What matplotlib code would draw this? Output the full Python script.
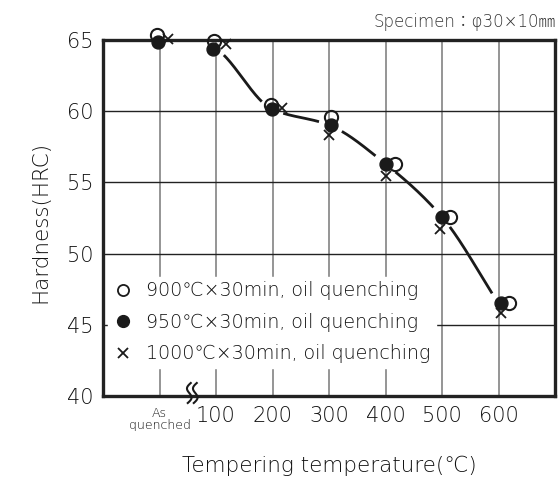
import numpy as np
import matplotlib
matplotlib.use('Agg')
import matplotlib.pyplot as plt
from matplotlib.lines import Line2D
from matplotlib.transforms import ScaledTranslation, IdentityTransform

plt.rcParams['font.family'] = ['DejaVu Sans', 'Noto Sans CJK JP']
plt.rcParams['font.weight'] = 200

# ---------------- data ----------------
categories = ['As\nquenched', '100', '200', '300', '400', '500', '600']
hrc_900 = [65.35, 64.95, 60.43, 59.57, 56.3, 52.55, 46.5]
hrc_950 = [64.88, 64.4, 60.13, 59.03, 56.3, 52.57, 46.5]
hrc_1000 = [65.1, 64.7, 60.25, 58.33, 55.45, 51.7, 45.8]
y_ticks = [40, 45, 50, 55, 60, 65]
legend_labels = ['900℃×30min, oil quenching',
                 '950℃×30min, oil quenching',
                 '1000℃×30min, oil quenching']
note = 'Specimen：φ30×10㎜'
x_label = 'Tempering temperature(℃)'
y_label = 'Hardness(HRC)'

# ---------------- style ----------------
TXT = '#111111'
DARK = '#1a1a1a'
dx_900 = [-3, -2, -2, 2, 9, 8, 10]     # small horizontal shifts (px) to avoid overlap
dx_950 = [-2, -3, -1, 2, 0, 0, 2]
dx_1000 = [8, 10, 9, 0, 0, -2, 2]

DPI = 100
fig = plt.figure(figsize=(5.6, 4.8), dpi=DPI)
ax = fig.add_axes([103 / 560, 1 - 396 / 480, 452 / 560, 356 / 480])
ax.set_xlim(-1, 7)
ax.set_ylim(40, 65)

pos = np.arange(len(categories))

# grid
for p in pos:
    ax.axvline(p, color='#8c8c8c', lw=1.3, zorder=1)
for yv in y_ticks[1:-1]:
    ax.axhline(yv, color='#222222', lw=1.0, zorder=1)

for s in ax.spines.values():
    s.set_linewidth(2.4)
    s.set_color('#222222')

ax.set_yticks(y_ticks)
ax.set_yticklabels([str(v) for v in y_ticks], fontsize=15, color=TXT)
ax.set_xticks(pos[1:])
ax.set_xticklabels(categories[1:], fontsize=15, color=TXT)
ax.tick_params(length=0, pad=7)
ax.text(pos[0], 39.2, categories[0], ha='center', va='top', fontsize=9,
        color=TXT, linespacing=0.95)

fig.text(329 / 560, 1 - 466 / 480, x_label, ha='center', va='center', fontsize=15.5, color=TXT)
fig.text(40 / 560, 1 - 222 / 480, y_label, ha='center', va='center', rotation=90,
         fontsize=15.5, color=TXT)
fig.text(556 / 560, 1 - 22 / 480, note, ha='right', va='center', fontsize=12, color='#333333')


def shift(dx):
    return ax.transData + ScaledTranslation(dx / DPI, 0, fig.dpi_scale_trans)


# smooth curve through 950 series (monotone cubic), with gaps at markers
xs = pos[1:].astype(float)
ys = np.array(hrc_950[1:], dtype=float)
h = np.diff(xs)
d = np.diff(ys) / h
m = np.zeros_like(ys)
for i in range(1, len(ys) - 1):
    if d[i - 1] * d[i] > 0:
        m[i] = 2 / (1 / d[i - 1] + 1 / d[i])
m[0] = d[0] * 0.6
m[-1] = d[-1]
xx, yy = [], []
for i in range(len(xs) - 1):
    t = np.linspace(0, 1, 80)
    h00 = 2 * t**3 - 3 * t**2 + 1
    h10 = t**3 - 2 * t**2 + t
    h01 = -2 * t**3 + 3 * t**2
    h11 = t**3 - t**2
    xx.append(xs[i] + t * h[i])
    yy.append(h00 * ys[i] + h10 * h[i] * m[i] + h01 * ys[i + 1] + h11 * h[i] * m[i + 1])
xx = np.concatenate(xx)
yy = np.concatenate(yy)
disp = ax.transData.transform(np.column_stack([xx, yy]))
mask = np.zeros(len(xx), dtype=bool)
for p, v, dxp in zip(pos[1:], hrc_950[1:], dx_950[1:]):
    c = ax.transData.transform((p, v)) + np.array([dxp, 0])
    mask |= np.hypot(disp[:, 0] - c[0], disp[:, 1] - c[1]) < 12
yy_m = yy.copy()
yy_m[mask] = np.nan
ax.plot(xx, yy_m, color=DARK, lw=2.0, zorder=3, solid_capstyle='butt')

# markers
for p, v, dxp in zip(pos, hrc_900, dx_900):
    ax.plot(p, v, 'o', ms=9.5, mfc='none', mec=DARK, mew=1.5, zorder=4,
            transform=shift(dxp), clip_on=False)
for p, v, dxp in zip(pos, hrc_950, dx_950):
    ax.plot(p, v, 'o', ms=9.3, mfc=DARK, mec=DARK, mew=1.0, zorder=5,
            transform=shift(dxp), clip_on=False)
for p, v, dxp in zip(pos, hrc_1000, dx_1000):
    ax.plot(p, v, 'x', ms=7.5, mec=DARK, mew=1.3, zorder=5,
            transform=shift(dxp), clip_on=False)

# legend
handles = [
    Line2D([], [], ls='none', marker='o', ms=8, mfc='white', mec=DARK, mew=1.3),
    Line2D([], [], ls='none', marker='o', ms=8.5, mfc=DARK, mec=DARK),
    Line2D([], [], ls='none', marker='x', ms=6.5, mec=DARK, mew=1.3),
]
leg = ax.legend(handles, legend_labels, loc='lower left', bbox_to_anchor=(0.012, 0.078),
                fontsize=13.7, frameon=True, fancybox=False, framealpha=1,
                edgecolor='white', facecolor='white', handlelength=1.0,
                handletextpad=0.75, labelspacing=0.66, borderpad=0.25,
                borderaxespad=0)
for t in leg.get_texts():
    t.set_color(TXT)
leg.set_zorder(6)

# axis break mark (two S-shaped strokes)
anchor = ax.transData.transform((0.58, 40))
tt = np.linspace(-1, 1, 50)
for k in range(2):
    bx = anchor[0] - 3 + 6 * k - 3.0 * np.sin(np.pi * tt) + 1.5 * tt
    by = anchor[1] + 3 + 10 * tt
    ax.plot(bx, by, color=DARK, lw=1.5, transform=IdentityTransform(), clip_on=False, zorder=7)

fig.savefig('out.png', dpi=DPI, facecolor='white')
